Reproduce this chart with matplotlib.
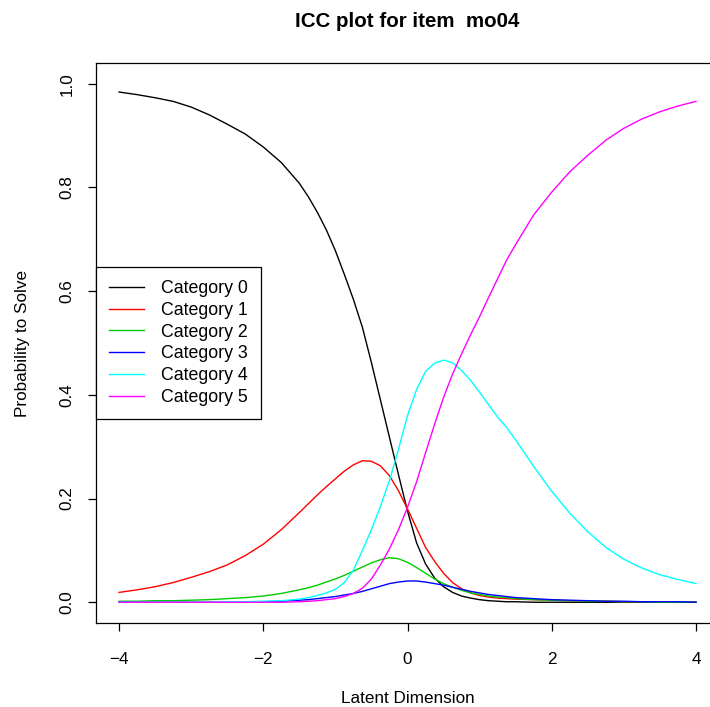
import matplotlib
matplotlib.use("Agg")
import matplotlib.pyplot as plt

# latent dimension grid (coarser in the tails, finer in the middle)
theta = [-4.0, -3.75, -3.5, -3.25, -3.0, -2.75, -2.5, -2.25, -2.0, -1.75,
         -1.5, -1.375, -1.25, -1.125, -1.0, -0.875, -0.75, -0.625, -0.5, -0.375,
         -0.25, -0.125, 0.0, 0.125, 0.25, 0.375, 0.5, 0.625, 0.75, 0.875,
         1.0, 1.125, 1.25, 1.375, 1.5, 1.75, 2.0, 2.25, 2.5, 2.75,
         3.0, 3.25, 3.5, 3.75, 4.0]

cat0 = [0.984, 0.979, 0.973, 0.966, 0.955, 0.940, 0.922, 0.903, 0.878, 0.848,
        0.808, 0.782, 0.752, 0.718, 0.678, 0.632, 0.584, 0.530, 0.462, 0.390,
        0.318, 0.246, 0.176, 0.115, 0.074, 0.047, 0.030, 0.019, 0.012, 0.008,
        0.005, 0.003, 0.002, 0.001, 0.001, 0.000, 0.000, 0.000, 0.000, 0.000,
        0.000, 0.000, 0.000, 0.000, 0.000]
cat1 = [0.019, 0.024, 0.030, 0.038, 0.048, 0.059, 0.072, 0.090, 0.112, 0.140,
        0.173, 0.190, 0.207, 0.223, 0.238, 0.253, 0.265, 0.273, 0.272, 0.263,
        0.244, 0.215, 0.180, 0.143, 0.106, 0.079, 0.056, 0.038, 0.026, 0.018,
        0.013, 0.010, 0.008, 0.007, 0.006, 0.005, 0.004, 0.003, 0.002, 0.002,
        0.001, 0.001, 0.001, 0.000, 0.000]
cat2 = [0.002, 0.002, 0.003, 0.003, 0.004, 0.005, 0.007, 0.009, 0.012, 0.017,
        0.024, 0.028, 0.033, 0.039, 0.045, 0.052, 0.060, 0.068, 0.076, 0.082,
        0.086, 0.084, 0.077, 0.067, 0.056, 0.045, 0.036, 0.029, 0.023, 0.018,
        0.015, 0.012, 0.010, 0.009, 0.007, 0.005, 0.004, 0.003, 0.002, 0.002,
        0.001, 0.001, 0.000, 0.000, 0.000]
cat3 = [0.000, 0.000, 0.000, 0.000, 0.000, 0.000, 0.000, 0.001, 0.001, 0.002,
        0.004, 0.005, 0.007, 0.009, 0.011, 0.014, 0.017, 0.021, 0.026, 0.031,
        0.036, 0.039, 0.041, 0.041, 0.039, 0.036, 0.033, 0.029, 0.025, 0.021,
        0.018, 0.015, 0.013, 0.011, 0.009, 0.007, 0.005, 0.004, 0.003, 0.002,
        0.002, 0.001, 0.001, 0.001, 0.000]
cat4 = [0.000, 0.000, 0.000, 0.000, 0.000, 0.000, 0.001, 0.001, 0.002, 0.003,
        0.006, 0.009, 0.013, 0.018, 0.025, 0.038, 0.062, 0.100, 0.140, 0.185,
        0.235, 0.295, 0.360, 0.410, 0.445, 0.461, 0.467, 0.462, 0.447, 0.428,
        0.405, 0.381, 0.357, 0.337, 0.313, 0.262, 0.214, 0.172, 0.136, 0.106,
        0.083, 0.066, 0.053, 0.044, 0.036]
cat5 = [0.000, 0.000, 0.000, 0.000, 0.000, 0.000, 0.000, 0.000, 0.000, 0.000,
        0.001, 0.002, 0.003, 0.005, 0.007, 0.011, 0.017, 0.027, 0.045, 0.072,
        0.103, 0.140, 0.183, 0.232, 0.288, 0.343, 0.395, 0.440, 0.479, 0.516,
        0.551, 0.588, 0.624, 0.660, 0.690, 0.747, 0.791, 0.830, 0.862, 0.891,
        0.914, 0.932, 0.946, 0.957, 0.966]

series = [cat0, cat1, cat2, cat3, cat4, cat5]
labels = ["Category 0", "Category 1", "Category 2", "Category 3", "Category 4", "Category 5"]
colors = ["black", "#FF0000", "#00CD00", "#0000FF", "#00FFFF", "#FF00FF"]

plt.rcParams["font.family"] = ["Liberation Sans", "DejaVu Sans"]
plt.rcParams["font.size"] = 12.3

fig = plt.figure(figsize=(7.10, 7.07), dpi=100)
# the plot box runs past the right edge of the picture, as in the original
ax = fig.add_axes([96 / 710, 84 / 707, 623 / 710, 560 / 707])

for values, label, color in zip(series, labels, colors):
    ax.plot(theta, values, color=color, linewidth=1.0, label=label)

ax.set_xlim(-4.32, 4.32)
ax.set_ylim(-0.04, 1.04)
ax.set_xticks([-4, -2, 0, 2, 4])
ax.set_xticklabels(["\u22124", "\u22122", "0", "2", "4"])
ax.set_yticks([0.0, 0.2, 0.4, 0.6, 0.8, 1.0])
ax.set_yticklabels(["0.0", "0.2", "0.4", "0.6", "0.8", "1.0"], rotation=90, va="center")
ax.tick_params(direction="out", length=5.5, width=0.9, colors="black")
ax.tick_params(axis="x", pad=15.5)
ax.tick_params(axis="y", pad=10)
for spine in ax.spines.values():
    spine.set_linewidth(0.9)
ax.spines["right"].set_visible(False)

ax.set_title("ICC plot for item  mo04", fontsize=14.8, fontweight="bold", pad=26)
ax.set_xlabel("Latent Dimension", labelpad=17)
ax.set_ylabel("Probability to Solve", labelpad=21)

leg = ax.legend(loc="center left", bbox_to_anchor=(0, 0.5), borderaxespad=0,
                fancybox=False, framealpha=1, edgecolor="black", fontsize=12.8,
                handlelength=1.95, handletextpad=0.95, labelspacing=0.27, borderpad=0.75)
leg.get_frame().set_linewidth(0.9)

fig.savefig("out.png", dpi=100)
plt.close(fig)
